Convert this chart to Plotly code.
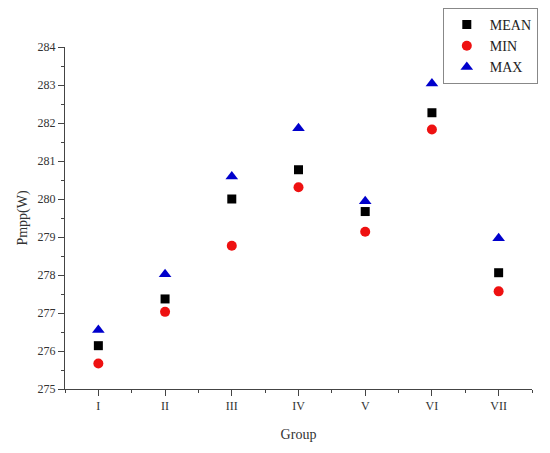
import plotly.graph_objects as go

groups = ["I", "II", "III", "IV", "V", "VI", "VII"]
group_pos = [1, 2, 3, 4, 5, 6, 7]
mean_vals = [276.14, 277.37, 280.00, 280.77, 279.67, 282.27, 278.06]
min_vals = [275.67, 277.03, 278.77, 280.31, 279.14, 281.83, 277.57]
max_vals = [276.55, 278.02, 280.59, 281.86, 279.94, 283.04, 278.97]
y_ticks = [275, 276, 277, 278, 279, 280, 281, 282, 283, 284]

FONT = "Liberation Serif"

fig = go.Figure()
fig.add_trace(go.Scatter(
    x=group_pos, y=mean_vals, mode="markers", name="MEAN",
    marker=dict(symbol="square", size=9, color="black"),
))
fig.add_trace(go.Scatter(
    x=group_pos, y=min_vals, mode="markers", name="MIN",
    marker=dict(symbol="circle", size=10, color="#ee1111"),
))
fig.add_trace(go.Scatter(
    x=group_pos, y=max_vals, mode="markers", name="MAX",
    marker=dict(symbol="triangle-up", size=11, color="#0000cc"),
))

# page body adds an 8px margin, so the figure is a little smaller
fig.update_layout(
    width=542, height=445,
    margin=dict(l=57, r=18, t=39, b=64, autoexpand=False),
    paper_bgcolor="white", plot_bgcolor="white",
    font=dict(family=FONT, size=12, color="#333"),
    showlegend=True,
    legend=dict(
        x=0.809, y=1.114, xanchor="left", yanchor="top",
        bordercolor="#888", borderwidth=1, bgcolor="white",
        font=dict(family=FONT, size=14, color="#222"),
        itemwidth=36, tracegroupgap=0,
    ),
    xaxis=dict(
        range=[0.5, 7.5], tickvals=group_pos, ticktext=groups,
        showgrid=False, zeroline=False, automargin=False,
        showline=True, linecolor="#444", linewidth=1,
        ticks="outside", ticklen=6, tickcolor="#444",
        minor=dict(ticks="outside", ticklen=3, tickcolor="#444",
                   tick0=0.5, dtick=0.5),
        tickfont=dict(family=FONT, size=12, color="#333"),
        title=dict(text="Group", font=dict(family=FONT, size=14, color="#333"),
                   standoff=16),
    ),
    yaxis=dict(
        range=[275, 284], tickvals=y_ticks,
        showgrid=False, zeroline=False, automargin=False,
        showline=True, linecolor="#444", linewidth=1,
        ticks="outside", ticklen=6, tickcolor="#444",
        minor=dict(ticks="outside", ticklen=3, tickcolor="#444",
                   tick0=275, dtick=0.5),
        tickfont=dict(family=FONT, size=12, color="#333"),
        title=dict(text="Pmpp(W)", font=dict(family=FONT, size=14, color="#333"),
                   standoff=6),
    ),
)

fig.write_html("out.html")
